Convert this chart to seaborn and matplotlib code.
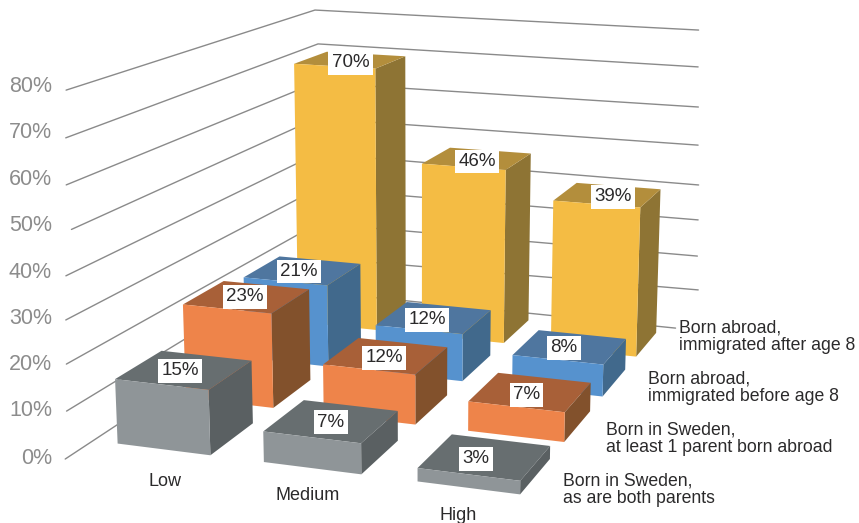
# 3d bars of education level by migration background
import numpy as np
import seaborn as sns
from matplotlib import pyplot as plt

categories = ["Low", "Medium", "High"]
series = ["Born in Sweden,\nas are both parents",
          "Born in Sweden,\nat least 1 parent born abroad",
          "Born abroad,\nimmigrated before age 8",
          "Born abroad,\nimmigrated after age 8"]
# one row per series, front to back
values = [[15, 7, 3],
          [23, 12, 7],
          [21, 12, 8],
          [70, 46, 39]]
ticks = [0, 10, 20, 30, 40, 50, 60, 70, 80]

front_colors = ["#8F9598", "#EE844A", "#5692CE", "#F4BC44"]
top_colors = ["#676E70", "#A86038", "#4F769F", "#B38E3C"]
side_colors = ["#5A6062", "#82512C", "#41698C", "#8E7434"]
clear = (0, 0, 0, 0)

W, H = 859, 523
# camera fitted to the reference, data coords -> image pixels
camera = np.array([[140.956407, 81.930453, -0.2356217, 79.236934],
                   [7.360506, -17.863908, -4.5426356, 448.718017],
                   [-0.024355, 0.071408, -0.0005611, 1.0]])


def to_pixels(x, y, z):
    u, v, w = camera @ [x, y, z, 1]
    return u / w, v / w


sns.set_theme(style="white", font="Liberation Sans")
fig = plt.figure(figsize=(W / 100, H / 100), dpi=100)
ax = fig.add_axes([0, 0, 1, 1], projection="3d", computed_zorder=False)
ax.set_axis_off()
ax.apply_aspect = lambda position=None: None


def get_proj():
    # pixels -> the 2d coords the 3d axes draws in
    inv = ax.transData.inverted()
    x0, y0 = inv.transform((0, H))
    x1, y1 = inv.transform((W, 0))
    a, c = (x1 - x0) / W, (y1 - y0) / H
    return np.array([a * camera[0] + x0 * camera[2],
                     c * camera[1] + y0 * camera[2],
                     [0, 0, 0, -1],
                     camera[2]])


ax.get_proj = get_proj

# gridlines on the two walls, ends trimmed like the reference
left_x = [0.01, -0.01, -0.03, -0.02, 0.0, 0.03, 0.03, 0.03, 0.03]
left_y = [-0.20, -0.12, -0.06, -0.06, -0.07, -0.03, -0.07, -0.05, -0.02]
corner_x = [0, 0, 0, 0, 0, 0, 0, -0.04, -0.01]
corner_y = [4.05, 4.05, 4.05, 4.05, 4.05, 4.05, 4.05, 4.20, 4.07]
right_x = [2.93, 3.07, 3.07, 3.07, 3.08, 3.05, 3.04, 3.01, 3.02]
right_y = [4.01, 4.13, 4.05, 4.03, 3.95, 4.03, 4.04, 4.13, 4.05]
for k, t in enumerate(ticks):
    ax.plot([left_x[k], corner_x[k], right_x[k]],
            [left_y[k], corner_y[k], right_y[k]], [t, t, t],
            color="#8A8A8A", lw=1.0, zorder=1)

gap_x, gap_y = 0.18, 0.17
# small pixel shifts of the value labels
nudge_x = [[-4, -1, -9], [-2, -2, -4], [-4, -7, -6], [0, 0, 5]]
nudge_y = [[1, 1, 2], [0, 2, 3], [1, 2, 1], [3, 3, 2]]
for j, row in enumerate(values):
    for i, v in enumerate(row):
        # face order in bar3d is -z, +z, -y, +y, -x, +x
        faces = [clear, top_colors[j], front_colors[j], clear, clear, side_colors[j]]
        ax.bar3d(i + gap_x, j + gap_y, 0, 1 - 2 * gap_x, 1 - 2 * gap_y, v,
                 color=faces, shade=False, linewidth=0, zorder=10 - j)
        u, w = to_pixels(i + 0.5, j + 0.5, v)
        fig.text((u + nudge_x[j][i]) / W, 1 - (w + nudge_y[j][i]) / H, f"{v}%",
                 ha="center", va="center", fontsize=13.5, color="#2B2A2B", zorder=20,
                 bbox=dict(fc="white", ec="none", pad=2.4))

# percent labels beside the left wall
tick_y = [458, 411, 365, 319, 272, 226, 179, 132, 87]
for t, y in zip(ticks, tick_y):
    fig.text(52 / W, 1 - y / H, f"{t}%", ha="right", va="center",
             fontsize=15.5, color="#8C8C8C")

cat_pos = [(165, 482), (308, 496), (458, 516)]
for name, (x, y) in zip(categories, cat_pos):
    fig.text(x / W, 1 - y / H, name, ha="center", va="center",
             fontsize=13, color="#2B2A2B")

series_pos = [(563, 490), (606, 439), (648, 388), (679, 337)]
for name, (x, y) in zip(series, series_pos):
    fig.text(x / W, 1 - y / H, name, ha="left", va="center",
             fontsize=12.7, color="#2B2A2B", linespacing=1.05)

plt.savefig("out.png", dpi=100)
